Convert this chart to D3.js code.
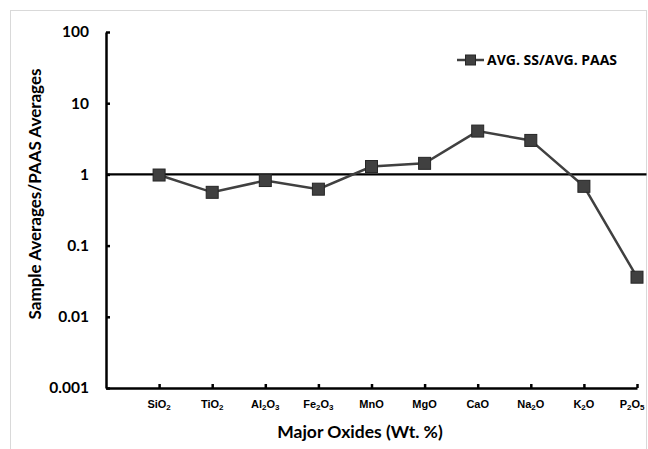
<!DOCTYPE html>
<html>
<head>
<meta charset="utf-8">
<script src="https://cdn.jsdelivr.net/npm/d3@7"></script>
<style>
  body { margin: 0; background: #fff; }
  svg { display: block; }
</style>
</head>
<body>
<svg id="chart" width="648" height="449"></svg>
<script>
// Major oxides, in plotting order
const categories = ["SiO2", "TiO2", "Al2O3", "Fe2O3", "MnO", "MgO", "CaO", "Na2O", "K2O", "P2O5"];
// Sample average divided by PAAS average for each oxide
const ratios = [0.98, 0.56, 0.82, 0.62, 1.29, 1.43, 4.06, 3.0, 0.68, 0.036];
const seriesName = "AVG. SS/AVG. PAAS";
const yTickValues = [0.001, 0.01, 0.1, 1, 10, 100];
const yTickLabels = ["0.001", "0.01", "0.1", "1", "10", "100"];
const referenceLevel = 1;

const svg = d3.select("#chart");
const plot = { left: 106, right: 637, top: 32, bottom: 388 };
const frameRight = 646.5;

// Outer chart frame
svg.append("rect")
  .attr("x", 10.5).attr("y", 10.5)
  .attr("width", frameRight - 10.5).attr("height", 460)
  .attr("fill", "#fff").attr("stroke", "#d9d9d9").attr("stroke-width", 1);

const x = d3.scaleLinear().domain([0, categories.length]).range([plot.left, plot.right]);
const y = d3.scaleLog().domain([0.001, 100]).range([plot.bottom, plot.top]);

// Y axis
const yAxis = svg.append("g")
  .attr("transform", `translate(${plot.left},0)`)
  .call(d3.axisLeft(y)
    .tickValues(yTickValues)
    .tickFormat((d, i) => yTickLabels[i])
    .tickSize(-4)
    .tickSizeOuter(0)
    .tickPadding(17));
yAxis.select(".domain").attr("stroke", "#000").attr("stroke-width", 2.5);
yAxis.selectAll(".tick line").attr("stroke", "#000").attr("stroke-width", 2.5);
yAxis.selectAll(".tick text")
  .attr("fill", "#000")
  .style("font-family", "Lato, 'Open Sans', sans-serif")
  .style("font-weight", "700")
  .style("font-size", "15.5px");

// X axis with ticks at each oxide position
const xAxis = svg.append("g")
  .attr("transform", `translate(0,${plot.bottom})`)
  .call(d3.axisBottom(x)
    .tickValues(d3.range(1, categories.length + 1))
    .tickFormat("")
    .tickSize(-4)
    .tickSizeOuter(0));
xAxis.select(".domain").attr("stroke", "#000").attr("stroke-width", 2.5);
xAxis.selectAll(".tick line").attr("stroke", "#000").attr("stroke-width", 2.5);

// Oxide labels with subscript digits
const labels = svg.append("g");
categories.forEach((name, i) => {
  const t = labels.append("text")
    .attr("x", x(i + 1))
    .attr("y", plot.bottom + 20)
    .attr("text-anchor", "middle")
    .style("font-family", "'Liberation Sans', Arial, sans-serif")
    .style("font-weight", "700")
    .style("font-size", "11px")
    .attr("fill", "#000");
  let prevSub = false;
  name.split(/(\d+)/).filter(s => s.length).forEach(part => {
    const isNum = /^\d+$/.test(part);
    t.append("tspan")
      .text(part)
      .style("font-size", isNum ? "8px" : "11px")
      .attr("dy", isNum ? 1.5 : (prevSub ? -1.5 : 0));
    prevSub = isNum;
  });
  // keep the last label inside the frame
  const box = t.node().getBBox();
  const overflow = box.x + box.width - (frameRight - 1.5);
  if (overflow > 0) t.attr("x", x(i + 1) - overflow);
});

// Reference line at ratio = 1
svg.append("line")
  .attr("x1", plot.left).attr("x2", frameRight)
  .attr("y1", y(referenceLevel)).attr("y2", y(referenceLevel))
  .attr("stroke", "#000").attr("stroke-width", 2.2);

// Series line
const line = d3.line().x((d, i) => x(i + 1)).y(d => y(d));
svg.append("path")
  .datum(ratios)
  .attr("d", line)
  .attr("fill", "none")
  .attr("stroke", "#404040")
  .attr("stroke-width", 2.5);

// Square markers
const ms = 12;
svg.append("g").selectAll("rect")
  .data(ratios)
  .join("rect")
  .attr("x", (d, i) => x(i + 1) - ms / 2)
  .attr("y", d => y(d) - ms / 2)
  .attr("width", ms).attr("height", ms)
  .attr("fill", "#404040")
  .attr("stroke", "#262626")
  .attr("stroke-width", 1);

// Legend
const legend = svg.append("g").attr("transform", "translate(457,60)");
legend.append("line").attr("x1", 0).attr("x2", 27).attr("y1", 0).attr("y2", 0)
  .attr("stroke", "#404040").attr("stroke-width", 2.5);
legend.append("rect").attr("x", 13.5 - 5).attr("y", -5).attr("width", 10).attr("height", 10)
  .attr("fill", "#404040").attr("stroke", "#262626").attr("stroke-width", 1);
legend.append("text").attr("x", 30).attr("y", 5)
  .text(seriesName)
  .style("font-family", "'Open Sans', Lato, sans-serif")
  .style("font-weight", "700")
  .style("font-size", "14px")
  .attr("fill", "#000");

// Axis titles
svg.append("text")
  .attr("transform", `translate(41,194) rotate(-90)`)
  .attr("text-anchor", "middle")
  .text("Sample Averages/PAAS Averages")
  .style("font-family", "Lato, 'Open Sans', sans-serif")
  .style("font-weight", "700")
  .style("font-size", "17px")
  .attr("fill", "#000");

svg.append("text")
  .attr("x", 360).attr("y", 438)
  .attr("text-anchor", "middle")
  .text("Major Oxides (Wt. %)")
  .style("font-family", "Lato, 'Open Sans', sans-serif")
  .style("font-weight", "700")
  .style("font-size", "17.5px")
  .attr("fill", "#000");
</script>
</body>
</html>
